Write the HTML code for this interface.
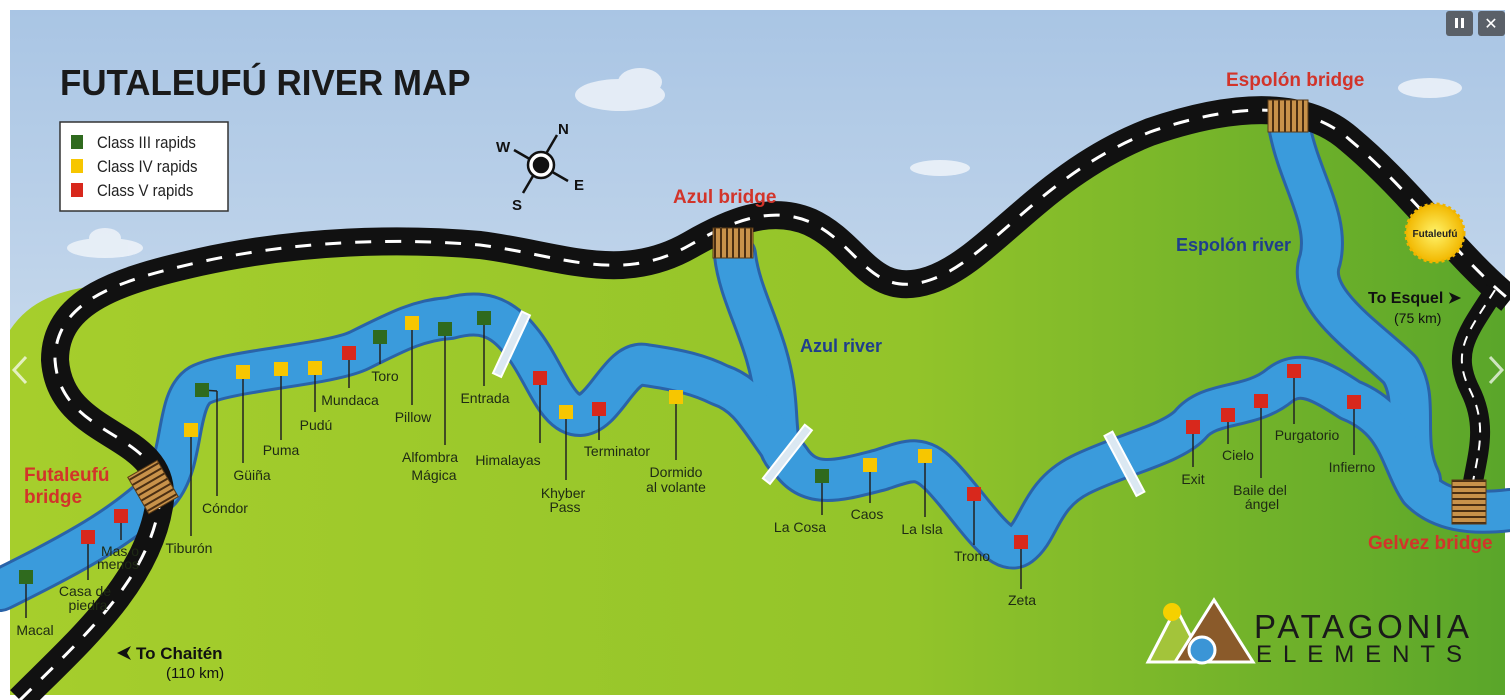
<!DOCTYPE html>
<html><head><meta charset="utf-8"><style>
html,body{margin:0;padding:0;background:#fff;}
svg{display:block;}
text{font-family:"Liberation Sans",sans-serif;}
</style></head><body>
<svg width="1510" height="700" viewBox="0 0 1510 700" xmlns="http://www.w3.org/2000/svg">
<defs>
<linearGradient id="sky" x1="0" y1="0" x2="0" y2="1">
<stop offset="0" stop-color="#a9c5e4"/><stop offset="1" stop-color="#e2ebf4"/>
</linearGradient>
<linearGradient id="grass" x1="0" y1="0" x2="1" y2="0">
<stop offset="0" stop-color="#a6ce2c"/><stop offset="0.6" stop-color="#93c42a"/><stop offset="1" stop-color="#5aa62a"/>
</linearGradient>
<pattern id="br" width="6" height="6" patternUnits="userSpaceOnUse">
<rect width="6" height="6" fill="#c8924a"/><rect width="6" height="2" fill="#4a2e12"/>
</pattern>
<pattern id="brv" width="6" height="6" patternUnits="userSpaceOnUse">
<rect width="6" height="6" fill="#c8924a"/><rect width="2" height="6" fill="#4a2e12"/>
</pattern>
<radialGradient id="sun"><stop offset="0" stop-color="#fff36a"/><stop offset="1" stop-color="#f2b800"/></radialGradient>
</defs>
<rect x="10" y="10" width="1495" height="685" fill="url(#sky)"/>
<g fill="#eef3f9" opacity="0.85">
<ellipse cx="620" cy="95" rx="45" ry="16"/><ellipse cx="640" cy="82" rx="22" ry="14"/>
<ellipse cx="105" cy="248" rx="38" ry="10"/><ellipse cx="105" cy="238" rx="16" ry="10"/>
<ellipse cx="1430" cy="88" rx="32" ry="10"/><ellipse cx="940" cy="168" rx="30" ry="8"/>
</g>
<path d="M10,690 L10,330 C30,300 60,290 100,285 C200,250 350,235 450,240 C550,250 620,275 680,245 C720,230 760,210 800,220 C850,240 870,290 920,280 C980,265 1040,170 1150,130 C1220,108 1290,100 1350,140 C1420,190 1460,250 1505,300 L1505,695 L10,695 Z" fill="url(#grass)"/>
<g fill="none" stroke-linecap="round" stroke-linejoin="round">
<g stroke="#2a63a8" stroke-width="44">
<path d="M735,255 C740,300 770,340 775,400 C778,430 775,450 790,460"/>
<path d="M1290,130 C1300,180 1330,220 1320,260 C1305,300 1370,340 1400,370 C1420,400 1400,440 1420,480"/>
<path id="rv" d="M0,590 C60,560 120,530 160,490 C185,460 175,400 200,385 C230,370 330,365 360,350 C400,330 420,320 450,318 C480,310 500,315 520,340 C545,370 555,415 580,415 C605,414 620,360 645,365 C680,370 700,375 720,385 C750,395 760,420 790,460 C810,490 840,480 880,470 C910,460 920,455 940,475 C970,505 1000,560 1020,545 C1040,530 1040,495 1080,475 C1120,455 1170,445 1190,425 C1210,400 1250,410 1280,385 C1300,370 1320,380 1350,400 C1400,420 1400,460 1420,490 C1440,510 1470,515 1510,510"/>
</g>
<g stroke="#3a9bdc" stroke-width="38">
<path d="M735,255 C740,300 770,340 775,400 C778,430 775,450 790,460"/>
<path d="M1290,130 C1300,180 1330,220 1320,260 C1305,300 1370,340 1400,370 C1420,400 1400,440 1420,480"/>
<use href="#rv"/>
</g>
</g>
<g fill="none" stroke-linecap="butt" stroke-linejoin="round">
<path d="M20,700 C80,640 150,580 160,500 C165,430 60,440 55,360 C55,300 120,280 200,262 C300,240 400,238 480,245 C560,255 620,285 690,245 C730,222 770,205 810,222 C860,245 870,300 930,280 C990,260 1040,175 1150,132 C1220,108 1300,95 1350,140 C1410,190 1460,260 1510,300" stroke="#111" stroke-width="28"/>
<path d="M1495,290 C1470,330 1450,350 1470,390 C1490,430 1475,460 1470,500" stroke="#111" stroke-width="20"/>
<path d="M20,700 C80,640 150,580 160,500 C165,430 60,440 55,360 C55,300 120,280 200,262 C300,240 400,238 480,245 C560,255 620,285 690,245 C730,222 770,205 810,222 C860,245 870,300 930,280 C990,260 1040,175 1150,132 C1220,108 1300,95 1350,140 C1410,190 1460,260 1510,300" stroke="#fff" stroke-width="3" stroke-dasharray="16 14"/>
<path d="M1495,290 C1470,330 1450,350 1470,390 C1490,430 1475,460 1470,500" stroke="#fff" stroke-width="2" stroke-dasharray="10 8"/>
</g>
<rect x="136" y="466" width="34" height="42" fill="url(#br)" stroke="#5a3a15" transform="rotate(-30 153 487)"/>
<rect x="713" y="228" width="40" height="30" fill="url(#brv)" stroke="#5a3a15"/>
<rect x="1268" y="100" width="40" height="32" fill="url(#brv)" stroke="#5a3a15"/>
<rect x="1452" y="480" width="34" height="44" fill="url(#br)" stroke="#5a3a15"/>
<g fill="#dbe8f2" stroke="#fff" stroke-width="2">
<rect x="507" y="310" width="9" height="68" transform="rotate(25 511 344)"/>
<rect x="783" y="420" width="9" height="68" transform="rotate(38 787 454)"/>
<rect x="1120" y="430" width="9" height="68" transform="rotate(-28 1124 464)"/>
</g>
<g stroke="#222" stroke-width="1.5">
<line x1="26" y1="577" x2="26" y2="618"/><line x1="88" y1="537" x2="88" y2="580"/><line x1="121" y1="516" x2="121" y2="540"/>
<line x1="191" y1="430" x2="191" y2="536"/><line x1="202" y1="390" x2="217" y2="391"/><line x1="217" y1="391" x2="217" y2="496"/>
<line x1="243" y1="372" x2="243" y2="463"/><line x1="281" y1="369" x2="281" y2="440"/><line x1="315" y1="368" x2="315" y2="412"/>
<line x1="349" y1="353" x2="349" y2="388"/><line x1="380" y1="337" x2="380" y2="364"/><line x1="412" y1="323" x2="412" y2="405"/>
<line x1="445" y1="329" x2="445" y2="445"/><line x1="484" y1="318" x2="484" y2="386"/><line x1="540" y1="378" x2="540" y2="443"/>
<line x1="566" y1="412" x2="566" y2="480"/><line x1="599" y1="409" x2="599" y2="440"/><line x1="676" y1="397" x2="676" y2="460"/>
<line x1="822" y1="476" x2="822" y2="515"/><line x1="870" y1="465" x2="870" y2="503"/><line x1="925" y1="456" x2="925" y2="517"/>
<line x1="974" y1="494" x2="974" y2="545"/><line x1="1021" y1="542" x2="1021" y2="589"/><line x1="1193" y1="427" x2="1193" y2="467"/>
<line x1="1228" y1="415" x2="1228" y2="444"/><line x1="1261" y1="401" x2="1261" y2="478"/><line x1="1294" y1="371" x2="1294" y2="424"/>
<line x1="1354" y1="402" x2="1354" y2="455"/>
</g>
<g stroke="none">
<g fill="#2f6a1e">
<rect x="19" y="570" width="14" height="14"/><rect x="195" y="383" width="14" height="14"/><rect x="373" y="330" width="14" height="14"/>
<rect x="438" y="322" width="14" height="14"/><rect x="477" y="311" width="14" height="14"/><rect x="815" y="469" width="14" height="14"/>
</g>
<g fill="#f7c600">
<rect x="184" y="423" width="14" height="14"/><rect x="236" y="365" width="14" height="14"/><rect x="274" y="362" width="14" height="14"/>
<rect x="308" y="361" width="14" height="14"/><rect x="405" y="316" width="14" height="14"/><rect x="559" y="405" width="14" height="14"/>
<rect x="669" y="390" width="14" height="14"/><rect x="863" y="458" width="14" height="14"/><rect x="918" y="449" width="14" height="14"/>
</g>
<g fill="#d8281c">
<rect x="81" y="530" width="14" height="14"/><rect x="114" y="509" width="14" height="14"/><rect x="342" y="346" width="14" height="14"/>
<rect x="533" y="371" width="14" height="14"/><rect x="592" y="402" width="14" height="14"/><rect x="967" y="487" width="14" height="14"/>
<rect x="1014" y="535" width="14" height="14"/><rect x="1186" y="420" width="14" height="14"/><rect x="1221" y="408" width="14" height="14"/>
<rect x="1254" y="394" width="14" height="14"/><rect x="1287" y="364" width="14" height="14"/><rect x="1347" y="395" width="14" height="14"/>
</g>
</g>
<g font-size="14" fill="#1e2a14" text-anchor="middle">
<text x="35" y="635">Macal</text>
<text x="85" y="596">Casa de</text><text x="88" y="610">piedra</text>
<text x="120" y="556">Mas o</text><text x="118" y="569">menos</text>
<text x="189" y="553">Tiburón</text><text x="225" y="513">Cóndor</text><text x="252" y="480">Güiña</text>
<text x="281" y="455">Puma</text><text x="316" y="430">Pudú</text><text x="350" y="405">Mundaca</text>
<text x="385" y="381">Toro</text><text x="413" y="422">Pillow</text>
<text x="430" y="462">Alfombra</text><text x="434" y="480">Mágica</text>
<text x="485" y="403">Entrada</text><text x="508" y="465">Himalayas</text>
<text x="563" y="498">Khyber</text><text x="565" y="512">Pass</text>
<text x="617" y="456">Terminator</text>
<text x="676" y="477">Dormido</text><text x="676" y="492">al volante</text>
<text x="800" y="532">La Cosa</text><text x="867" y="519">Caos</text><text x="922" y="534">La Isla</text>
<text x="972" y="561">Trono</text><text x="1022" y="605">Zeta</text>
<text x="1193" y="484">Exit</text><text x="1238" y="460">Cielo</text>
<text x="1260" y="495">Baile del</text><text x="1262" y="509">ángel</text>
<text x="1307" y="440">Purgatorio</text><text x="1352" y="472">Infierno</text>
</g>
<g font-weight="bold" font-size="19" fill="#d2342a">
<text x="24" y="481">Futaleufú</text><text x="24" y="503">bridge</text>
<text x="673" y="203">Azul bridge</text>
<text x="1226" y="86">Espolón bridge</text>
<text x="1368" y="549">Gelvez bridge</text>
</g>
<g font-weight="bold" font-size="18" fill="#1f3e8c">
<text x="800" y="352">Azul river</text><text x="1176" y="251">Espolón river</text>
</g>
<polygon points="117,653 131,646 127,653 131,660" fill="#111"/>
<text x="136" y="659" font-weight="bold" font-size="17" fill="#111">To Chaitén</text>
<text x="166" y="678" font-size="15" fill="#111">(110 km)</text>
<text x="1368" y="303" font-weight="bold" font-size="16" fill="#111">To Esquel ➤</text>
<text x="1394" y="323" font-size="14" fill="#111">(75 km)</text>
<circle cx="1435" cy="233" r="29" fill="url(#sun)" stroke="#f0b400" stroke-width="3" stroke-dasharray="3 3"/>
<text x="1435" y="237" text-anchor="middle" font-size="10" font-weight="bold" fill="#222">Futaleufú</text>
<text x="0" y="0" font-size="36" font-weight="bold" fill="#1a1a1a" transform="translate(60 95) scale(0.97 1)">FUTALEUFÚ RIVER MAP</text>
<rect x="60" y="122" width="168" height="89" fill="#fff" stroke="#333" stroke-width="1.5"/>
<rect x="71" y="135" width="12" height="14" fill="#2f6a1e"/><rect x="71" y="159" width="12" height="14" fill="#f7c600"/><rect x="71" y="183" width="12" height="14" fill="#d8281c"/>
<g font-size="17" fill="#222"><text x="0" y="0" transform="translate(97 148) scale(0.88 1)">Class III rapids</text><text transform="translate(97 172) scale(0.88 1)">Class IV rapids</text><text transform="translate(97 196) scale(0.88 1)">Class V rapids</text></g>
<g stroke="#111" stroke-width="2.5" fill="none">
<line x1="514" y1="150" x2="568" y2="181"/><line x1="557" y1="135" x2="523" y2="193"/>
<circle cx="541" cy="165" r="13" fill="#fff"/><circle cx="541" cy="165" r="7" fill="#111"/>
</g>
<g style="font-family:'Liberation Mono',monospace" font-weight="bold" font-size="15" fill="#111">
<text x="558" y="134">N</text><text x="496" y="152">W</text><text x="574" y="190">E</text><text x="512" y="210">S</text>
</g>
<polygon points="1148,662 1176,608 1204,662" fill="#a3c43a" stroke="#fff" stroke-width="3"/>
<polygon points="1175,662 1214,600 1253,662" fill="#8a5a2a" stroke="#fff" stroke-width="3"/>
<circle cx="1172" cy="612" r="9" fill="#f5d000"/>
<circle cx="1202" cy="650" r="13" fill="#3b95d6" stroke="#fff" stroke-width="3"/>
<text x="1254" y="638" font-size="33" fill="#1a1a1a" textLength="215">PATAGONIA</text>
<text x="1256" y="662" font-size="24" fill="#1a1a1a" textLength="212" letter-spacing="6">ELEMENTS</text>
<rect x="1446" y="11" width="27" height="25" rx="3" fill="#5a6068"/><rect x="1478" y="11" width="27" height="25" rx="3" fill="#5a6068"/>
<rect x="1455" y="18" width="3" height="10" fill="#fff"/><rect x="1461" y="18" width="3" height="10" fill="#fff"/>
<text x="1491" y="29" text-anchor="middle" font-size="16" fill="#fff">✕</text>
<polyline points="26,357 14,370 26,383" fill="none" stroke="#fff" stroke-width="3" opacity="0.7"/>
<polyline points="1490,357 1502,370 1490,383" fill="none" stroke="#fff" stroke-width="3" opacity="0.7"/>
</svg>
</body></html>
